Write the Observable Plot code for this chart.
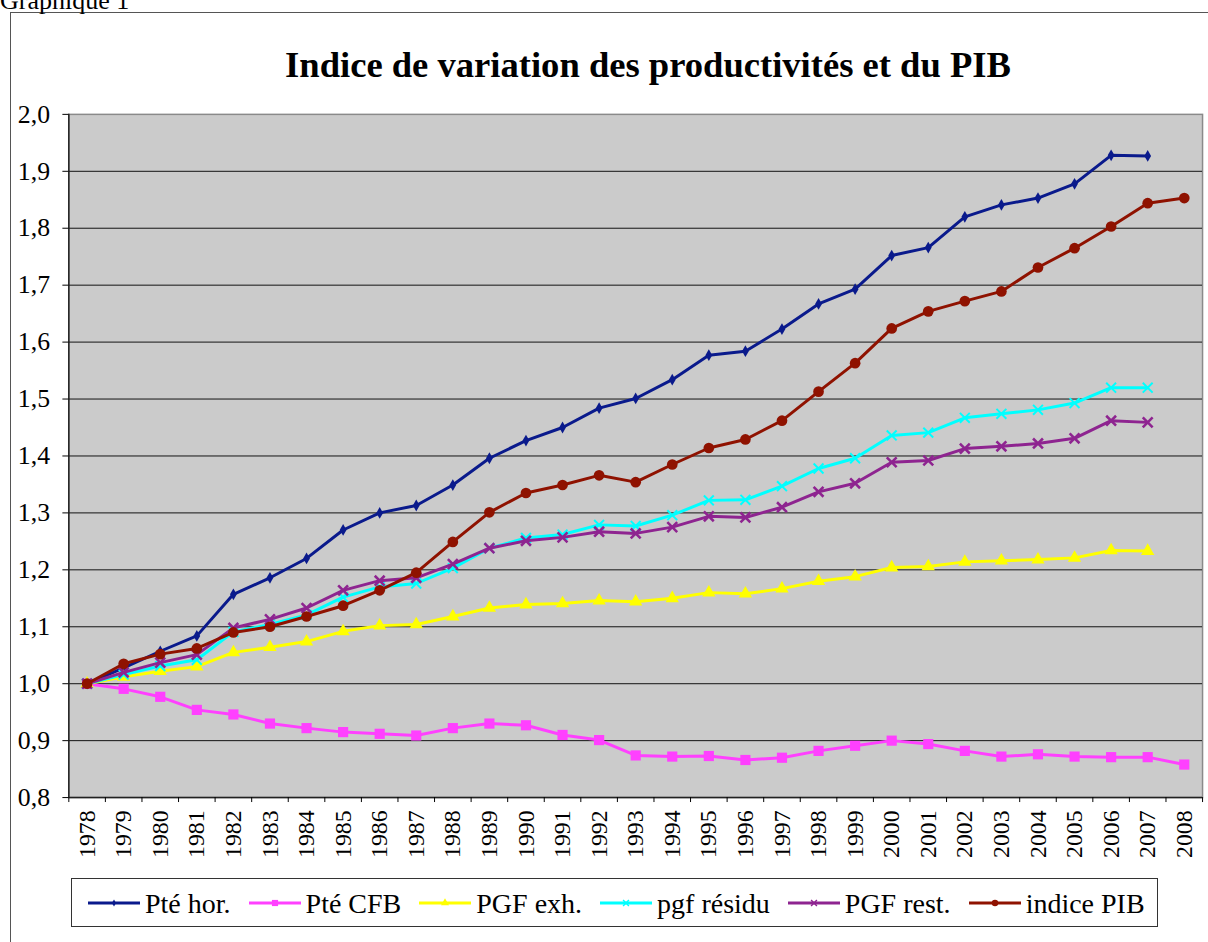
<!DOCTYPE html>
<html>
<head>
<meta charset="utf-8">
<script src="https://cdn.jsdelivr.net/npm/d3@7"></script>
<script src="https://cdn.jsdelivr.net/npm/@observablehq/plot@0.6"></script>
<style>
  html, body { margin: 0; padding: 0; background: #fff; overflow: hidden; }
  #wrap { position: relative; width: 1208px; height: 942px; overflow: hidden; font-family: "Liberation Serif", "Times New Roman", serif; color: #000; }
  #frame { position: absolute; left: 10px; top: 12px; width: 1400px; height: 1200px; border: 1px solid #555; box-sizing: border-box; }
  #kicker { position: absolute; left: 0; top: -12px; font-size: 26px; line-height: 26px; white-space: nowrap; }
  #title { position: absolute; left: 648px; top: 46px; transform: translateX(-50%); font-size: 36.6px; line-height: 38px; font-weight: bold; white-space: nowrap; }
  #chart { position: absolute; left: 0; top: 0; }
  #legend { position: absolute; left: 71px; top: 878px; width: 1087px; height: 49px; border: 1.5px solid #333; box-sizing: border-box; background: #fff; display: flex; align-items: center; padding-left: 16px; gap: 18px; font-size: 28px; }
  .item { display: flex; align-items: center; gap: 5px; white-space: nowrap; }
  .item span { line-height: 28px; position: relative; top: 1px; }
</style>
</head>
<body>
<div id="wrap">
  <div id="frame"></div>
  <div id="kicker">Graphique 1</div>
  <div id="chart"></div>
  <div id="title">Indice de variation des productivités et du PIB</div>
  <div id="legend"></div>
</div>
<script>
// ---- Data ----
const years = [1978,1979,1980,1981,1982,1983,1984,1985,1986,1987,1988,1989,1990,1991,1992,1993,1994,1995,1996,1997,1998,1999,2000,2001,2002,2003,2004,2005,2006,2007,2008];

const pteHor    = [1.000,1.028,1.057,1.084,1.157,1.186,1.220,1.270,1.300,1.313,1.349,1.396,1.427,1.450,1.484,1.501,1.534,1.577,1.584,1.623,1.667,1.693,1.752,1.766,1.820,1.841,1.853,1.878,1.928,1.927,null];
const pteCFB    = [1.000,0.991,0.977,0.954,0.946,0.930,0.922,0.915,0.912,0.909,0.922,0.930,0.927,0.910,0.901,0.874,0.872,0.873,0.866,0.870,0.882,0.891,0.900,0.894,0.882,0.872,0.876,0.872,0.871,0.871,0.858];
const pgfExh    = [1.000,1.012,1.022,1.030,1.055,1.064,1.074,1.092,1.102,1.104,1.118,1.133,1.139,1.141,1.146,1.144,1.150,1.160,1.158,1.167,1.180,1.188,1.204,1.206,1.214,1.216,1.218,1.221,1.234,1.233,null];
const pgfResidu = [1.000,1.016,1.031,1.042,1.091,1.104,1.121,1.152,1.170,1.176,1.203,1.238,1.256,1.262,1.279,1.277,1.296,1.322,1.323,1.347,1.378,1.396,1.436,1.441,1.467,1.474,1.481,1.493,1.520,1.520,null];
const pgfRest   = [1.000,1.020,1.037,1.051,1.098,1.113,1.133,1.164,1.181,1.186,1.210,1.238,1.251,1.257,1.267,1.264,1.275,1.294,1.292,1.310,1.337,1.352,1.389,1.392,1.413,1.417,1.422,1.431,1.462,1.459,null];
const indicePIB = [1.000,1.035,1.052,1.062,1.090,1.100,1.118,1.137,1.164,1.195,1.249,1.301,1.335,1.349,1.366,1.354,1.385,1.414,1.429,1.462,1.513,1.563,1.624,1.654,1.672,1.689,1.731,1.765,1.803,1.844,1.853];

const seriesNames = ["Pté hor.", "Pté CFB", "PGF exh.", "pgf résidu", "PGF rest.", "indice PIB"];
const yTickValues = [0.8,0.9,1.0,1.1,1.2,1.3,1.4,1.5,1.6,1.7,1.8,1.9,2.0];

// ---- Styles ----
const styles = [
  {color: "#0a1a8c", symbol: "diamond", r: 3.6, fill: true, sw: 0},
  {color: "#ff40ff", symbol: "square", r: 5.8, fill: true, sw: 0},
  {color: "#ffff00", symbol: "triangle", r: 5.0, fill: true, sw: 0},
  {color: "#00ffff", symbol: "times", r: 4.6, fill: false, sw: 2},
  {color: "#8e2490", symbol: "times", r: 4.6, fill: false, sw: 2.6},
  {color: "#8f1200", symbol: "circle", r: 5.4, fill: true, sw: 0}
];
const valueArrays = [pteHor, pteCFB, pgfExh, pgfResidu, pgfRest, indicePIB];

const seriesData = seriesNames.map((name, i) =>
  years.map((year, j) => ({year, value: valueArrays[i][j], name}))
       .filter(d => d.value != null)
);

const boundaries = years.map(y => y - 0.5).concat([years[years.length - 1] + 0.5]);
const gridValues = yTickValues.filter(v => v > 0.8 + 1e-9 && v < 2.0 - 1e-9);
const fmt = d => d.toFixed(1).replace(".", ",");

const marks = [
  Plot.frame({fill: "#cbcbcb", stroke: "#8a8a8a", strokeWidth: 1.5}),
  Plot.ruleY(gridValues, {stroke: "#111", strokeWidth: 1}),
  Plot.ruleX([boundaries[0]], {stroke: "#222", strokeWidth: 1.5}),
  Plot.ruleY([yTickValues[0]], {stroke: "#222", strokeWidth: 1.5}),
  Plot.axisY({ticks: yTickValues, tickFormat: fmt, tickSize: 6, tickPadding: 13, fontSize: 26, label: null}),
  Plot.axisX({ticks: years, tickFormat: d => String(d), tickSize: 0, tickRotate: -90, tickPadding: 13, fontSize: 24, label: null}),
  Plot.axisX({ticks: boundaries, tickFormat: () => "", tickSize: 5, label: null})
];

seriesData.forEach((data, i) => {
  const s = styles[i];
  marks.push(Plot.line(data, {x: "year", y: "value", stroke: s.color, strokeWidth: 3}));
  marks.push(Plot.dot(data, {
    x: "year", y: "value", symbol: () => s.symbol, r: s.r,
    fill: s.fill ? s.color : "none",
    stroke: s.fill ? "none" : s.color,
    strokeWidth: s.sw
  }));
});

const chart = Plot.plot({
  width: 1220,
  height: 942,
  marginLeft: 69,
  marginRight: 6,
  marginTop: 115,
  marginBottom: 137,
  x: {type: "linear", domain: [boundaries[0], boundaries[boundaries.length - 1]]},
  y: {domain: [yTickValues[0], yTickValues[yTickValues.length - 1]]},
  symbol: {type: "identity"},
  style: {fontFamily: "'Liberation Serif', 'Times New Roman', serif", fontSize: "24px", background: "transparent", color: "#000", overflow: "visible"},
  marks
});
document.getElementById("chart").appendChild(chart);

// ---- Legend ----
const legend = d3.select("#legend");
const symMap = {diamond: d3.symbolDiamond, square: d3.symbolSquare, triangle: d3.symbolTriangle, times: d3.symbolTimes, circle: d3.symbolCircle};
seriesNames.forEach((name, i) => {
  const s = styles[i];
  const item = legend.append("div").attr("class", "item");
  const svg = item.append("svg").attr("width", 52).attr("height", 14);
  svg.append("line").attr("x1", 0).attr("x2", 52).attr("y1", 7).attr("y2", 7)
     .attr("stroke", s.color).attr("stroke-width", 3);
  svg.append("path").attr("transform", "translate(26,7)")
     .attr("d", d3.symbol(symMap[s.symbol], Math.PI * (s.r * 0.6) ** 2)())
     .attr("fill", s.fill ? s.color : "none")
     .attr("stroke", s.fill ? "none" : s.color)
     .attr("stroke-width", s.sw ? 1.5 : 0);
  item.append("span").text(name);
});
</script>
</body>
</html>
